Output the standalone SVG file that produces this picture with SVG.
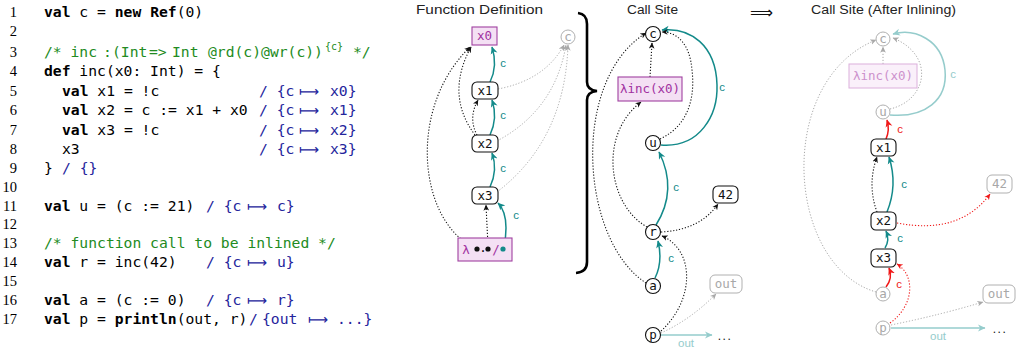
<svg xmlns="http://www.w3.org/2000/svg" width="1022" height="351" viewBox="0 0 1022 351">
<style>
.code{font-family:"DejaVu Sans Mono",monospace;font-size:14.7px;fill:#000}
.kw{font-weight:bold}
.cm{fill:#228b22}
.ef{fill:#24249c}
.mt{font-family:"DejaVu Sans",sans-serif;font-size:14px}
.ln{font-family:"Liberation Serif",serif;font-size:14.5px;text-anchor:end;fill:#000}
.title{font-family:"Liberation Sans",sans-serif;font-size:12.5px;fill:#222}
.nl{font-family:"DejaVu Sans Mono",monospace;font-size:12.5px;text-anchor:middle;fill:#111}
.gl{fill:#a8a8a8}
.pl{fill:#a030a0}
.fpl{fill:#cc90cc}
.node{fill:#fff;stroke:#111;stroke-width:1.1}
.gnode{fill:#fff;stroke:#b0b0b0;stroke-width:1}
.pbox{fill:#f4e0f4;stroke:#a040a0;stroke-width:1.1}
.fbox{fill:#faf0fa;stroke:#dcb0dc;stroke-width:1}
.lbl{font-family:"Liberation Sans",sans-serif;font-size:11.5px;text-anchor:middle}
.teal{fill:none;stroke:#138a8a;stroke-width:1.5}
.lteal{fill:none;stroke:#95cccc;stroke-width:1.5}
.red{fill:none;stroke:#f01818;stroke-width:1.5}
.dot{fill:none;stroke:#111;stroke-width:1.1;stroke-dasharray:1.2 1.8}
.gdot{fill:none;stroke:#a8a8a8;stroke-width:1;stroke-dasharray:1.2 1.8}
.rdot{fill:none;stroke:#f01818;stroke-width:1.1;stroke-dasharray:1.2 1.8}
</style>
<defs>
<marker id="aT" markerUnits="userSpaceOnUse" viewBox="0 0 8 8" markerWidth="8" markerHeight="8" refX="7" refY="4" orient="auto"><path d="M0,0.5 L7.5,4 L0,7.5 L2.2,4 z" fill="#138a8a"/></marker>
<marker id="aLT" markerUnits="userSpaceOnUse" viewBox="0 0 8 8" markerWidth="8" markerHeight="8" refX="7" refY="4" orient="auto"><path d="M0,0.5 L7.5,4 L0,7.5 L2.2,4 z" fill="#95cccc"/></marker>
<marker id="aR" markerUnits="userSpaceOnUse" viewBox="0 0 8 8" markerWidth="8" markerHeight="8" refX="7" refY="4" orient="auto"><path d="M0,0.5 L7.5,4 L0,7.5 L2.2,4 z" fill="#f01818"/></marker>
<marker id="aK" markerUnits="userSpaceOnUse" viewBox="0 0 8 8" markerWidth="6.5" markerHeight="6.5" refX="7" refY="4" orient="auto"><path d="M0,0.5 L7.5,4 L0,7.5 L2.2,4 z" fill="#111"/></marker>
<marker id="aG" markerUnits="userSpaceOnUse" viewBox="0 0 8 8" markerWidth="6.5" markerHeight="6.5" refX="7" refY="4" orient="auto"><path d="M0,0.5 L7.5,4 L0,7.5 L2.2,4 z" fill="#a8a8a8"/></marker>
<marker id="aRd" markerUnits="userSpaceOnUse" viewBox="0 0 8 8" markerWidth="6.5" markerHeight="6.5" refX="7" refY="4" orient="auto"><path d="M0,0.5 L7.5,4 L0,7.5 L2.2,4 z" fill="#f01818"/></marker>
</defs>

<g id="code">
<text class="ln" x="17" y="17">1</text>
<text class="ln" x="17" y="36">2</text>
<text class="ln" x="17" y="57">3</text>
<text class="ln" x="17" y="76">4</text>
<text class="ln" x="17" y="96">5</text>
<text class="ln" x="17" y="115">6</text>
<text class="ln" x="17" y="135">7</text>
<text class="ln" x="17" y="154">8</text>
<text class="ln" x="17" y="173">9</text>
<text class="ln" x="17" y="192">10</text>
<text class="ln" x="17" y="211">11</text>
<text class="ln" x="17" y="229">12</text>
<text class="ln" x="17" y="248">13</text>
<text class="ln" x="17" y="267">14</text>
<text class="ln" x="17" y="286">15</text>
<text class="ln" x="17" y="305">16</text>
<text class="ln" x="17" y="324">17</text>

<text class="code" x="44" y="17" xml:space="preserve"><tspan class="kw">val</tspan> c = <tspan class="kw">new</tspan> <tspan class="kw">Ref</tspan>(0)</text>
<text class="code cm" y="57"><tspan x="44">/* inc</tspan><tspan x="103">:</tspan><tspan x="112">(Int</tspan><tspan x="149">=&gt;</tspan><tspan x="172">Int</tspan><tspan x="208">@rd(c)@wr(c))</tspan><tspan x="325" dy="-7" font-size="10">{c}</tspan><tspan x="353" dy="7">*/</tspan></text>
<text class="code" x="44" y="76" xml:space="preserve"><tspan class="kw">def</tspan> inc(x0: Int) = {</text>
<text class="code" x="62" y="96" xml:space="preserve"><tspan class="kw">val</tspan> x1 = !c</text>
<text class="code ef" y="96"><tspan x="259">/ {c</tspan><tspan class="mt" x="299">⟼</tspan><tspan x="330">x0}</tspan></text>
<text class="code" x="62" y="115" xml:space="preserve"><tspan class="kw">val</tspan> x2 = c := x1 + x0</text>
<text class="code ef" y="115"><tspan x="259">/ {c</tspan><tspan class="mt" x="299">⟼</tspan><tspan x="330">x1}</tspan></text>
<text class="code" x="62" y="135" xml:space="preserve"><tspan class="kw">val</tspan> x3 = !c</text>
<text class="code ef" y="135"><tspan x="259">/ {c</tspan><tspan class="mt" x="299">⟼</tspan><tspan x="330">x2}</tspan></text>
<text class="code" x="62" y="154">x3</text>
<text class="code ef" y="154"><tspan x="259">/ {c</tspan><tspan class="mt" x="299">⟼</tspan><tspan x="330">x3}</tspan></text>
<text class="code" x="44" y="173">}</text>
<text class="code ef" x="62" y="173">/ {}</text>
<text class="code" x="44" y="211" xml:space="preserve"><tspan class="kw">val</tspan> u = (c := 21)</text>
<text class="code ef" y="211"><tspan x="206">/ {c</tspan><tspan class="mt" x="247">⟼</tspan><tspan x="277">c}</tspan></text>
<text class="code cm" x="44" y="248">/* function call to be inlined */</text>
<text class="code" x="44" y="267" xml:space="preserve"><tspan class="kw">val</tspan> r = inc(42)</text>
<text class="code ef" y="267"><tspan x="206">/ {c</tspan><tspan class="mt" x="247">⟼</tspan><tspan x="277">u}</tspan></text>
<text class="code" x="44" y="305" xml:space="preserve"><tspan class="kw">val</tspan> a = (c := 0)</text>
<text class="code ef" y="305"><tspan x="206">/ {c</tspan><tspan class="mt" x="247">⟼</tspan><tspan x="277">r}</tspan></text>
<text class="code" x="44" y="324" xml:space="preserve"><tspan class="kw">val</tspan> p = <tspan class="kw">println</tspan>(out, r)</text>
<text class="code ef" y="324"><tspan x="249">/</tspan><tspan x="262">{out</tspan><tspan class="mt" x="308">⟼</tspan><tspan x="337">...}</tspan></text>
</g>

<g id="titles">
<text class="title" x="416" y="14" textLength="127" lengthAdjust="spacingAndGlyphs">Function Definition</text>
<text class="title" x="627" y="14" textLength="51" lengthAdjust="spacingAndGlyphs">Call Site</text>
<text class="title" x="811" y="14" textLength="145" lengthAdjust="spacingAndGlyphs">Call Site (After Inlining)</text>
<text x="750" y="18" font-family="DejaVu Sans,sans-serif" font-size="16" textLength="23" lengthAdjust="spacingAndGlyphs" fill="#111">⟹</text>
</g>

<path id="brace" d="M578,13 Q587,14 587,24 L587,82 Q587,90 597,91 Q587,92 587,100 L587,262 Q587,272 576,273" fill="none" stroke="#000" stroke-width="2.6"/>

<g id="connectors">
<path class="teal" d="M490,82 Q498,66 492,47" marker-end="url(#aT)"/>
<path class="teal" d="M490,135 Q498,118 492,100" marker-end="url(#aT)"/>
<path class="teal" d="M490,187 Q498,170 492,153" marker-end="url(#aT)"/>
<path class="teal" d="M504,247 Q510,215 498,203" marker-end="url(#aT)"/>
<path class="dot" d="M477,135 Q468,118 478,100" marker-end="url(#aK)"/>
<path class="dot" d="M475,135 Q445,95 471,47" marker-end="url(#aK)"/>
<path class="dot" d="M476,248 C420,225 405,110 470,47" marker-end="url(#aK)"/>
<path class="dot" d="M488,246 L486,205" marker-end="url(#aK)"/>
<path class="gdot" d="M498,89 Q545,80 564,45" marker-end="url(#aG)"/>
<path class="gdot" d="M497,141 Q555,110 566,45" marker-end="url(#aG)"/>
<path class="gdot" d="M497,192 Q565,140 568,45" marker-end="url(#aG)"/>
<text class="lbl" x="503" y="67" fill="#138a8a">c</text>
<text class="lbl" x="503" y="119" fill="#138a8a">c</text>
<text class="lbl" x="503" y="172" fill="#138a8a">c</text>
<text class="lbl" x="516" y="219" fill="#138a8a">c</text>

<path class="dot" d="M650,77 L652,43" marker-end="url(#aK)"/>
<path class="teal" d="M661,145 C700,148 718,115 717,85 C716,45 690,27 662,30" marker-end="url(#aT)"/>
<path class="dot" d="M660,139 C690,125 695,95 692,70 C690,45 678,32 662,32" marker-end="url(#aK)"/>
<path class="dot" d="M647,227 C608,205 598,135 641,102" marker-end="url(#aK)"/>
<path class="dot" d="M646,283 C580,240 570,80 646,33" marker-end="url(#aK)"/>
<path class="teal" d="M656,225 Q678,190 659,152" marker-end="url(#aT)"/>
<path class="teal" d="M655,278 Q663,262 658,241" marker-end="url(#aT)"/>
<path class="dot" d="M661,232 Q700,230 718,204" marker-end="url(#aK)"/>
<path class="dot" d="M661,331 C695,300 695,250 662,236" marker-end="url(#aK)"/>
<path class="gdot" d="M661,333 Q690,320 716,294" marker-end="url(#aG)"/>
<path class="lteal" d="M661,335 L712,335" marker-end="url(#aLT)"/>
<text class="lbl" x="722" y="91" fill="#138a8a">c</text>
<text class="lbl" x="676" y="191" fill="#138a8a">c</text>
<text class="lbl" x="671" y="262" fill="#138a8a">c</text>
<text class="lbl" x="686" y="347" fill="#95cccc">out</text>

<path class="gdot" d="M883,64 L883,47" marker-end="url(#aG)"/>
<path class="lteal" d="M890,115 C925,118 948,100 945,70 C942,40 915,28 893,34" marker-end="url(#aLT)"/>
<path class="gdot" d="M890,109 C928,100 935,55 893,38" marker-end="url(#aG)"/>
<path class="red" d="M886,139 Q890,130 887,120" marker-end="url(#aR)"/>
<path class="teal" d="M887,212 Q898,185 889,157" marker-end="url(#aT)"/>
<path class="dot" d="M877,212 Q867,185 877,157" marker-end="url(#aK)"/>
<path class="teal" d="M885,248 Q890,240 886,231" marker-end="url(#aT)"/>
<path class="red" d="M886,287 Q893,278 889,268" marker-end="url(#aR)"/>
<path class="rdot" d="M890,323 C915,305 915,275 897,264" marker-end="url(#aRd)"/>
<path class="rdot" d="M897,223 Q960,235 990,194" marker-end="url(#aRd)"/>
<path class="gdot" d="M891,325 Q940,315 983,302" marker-end="url(#aG)"/>
<path class="lteal" d="M891,328 L985,328" marker-end="url(#aLT)"/>
<path class="gdot" d="M876,292 C785,265 775,80 876,40" marker-end="url(#aG)"/>
<text class="lbl" x="953" y="78" fill="#95cccc">c</text>
<text class="lbl" x="900" y="133" fill="#f01818">c</text>
<text class="lbl" x="904" y="188" fill="#138a8a">c</text>
<text class="lbl" x="900" y="242" fill="#138a8a">c</text>
<text class="lbl" x="899" y="288" fill="#f01818">c</text>
<text class="lbl" x="938" y="340" fill="#95cccc">out</text>
</g>

<g id="fd-x0"><rect class="pbox" x="472" y="27" width="25" height="18"/><text class="nl pl" x="484.5" y="40">x0</text></g>
<g id="fd-c"><circle class="gnode" cx="568" cy="37" r="7"/><text class="nl gl" x="568" y="41">c</text></g>
<g id="fd-x1"><rect class="node" x="472" y="82" width="26" height="17" rx="5"/><text class="nl" x="485" y="95">x1</text></g>
<g id="fd-x2"><rect class="node" x="472" y="135" width="26" height="17" rx="5"/><text class="nl" x="485" y="148">x2</text></g>
<g id="fd-x3"><rect class="node" x="472" y="187" width="26" height="17" rx="5"/><text class="nl" x="485" y="200">x3</text></g>
<g id="fd-lambda"><rect class="pbox" x="458" y="238" width="54" height="23"/>
<text class="nl pl" x="466" y="254">λ</text><circle cx="477" cy="249" r="2.6" fill="#111"/><text class="nl" x="483" y="252">.</text><circle cx="488" cy="249" r="2.6" fill="#111"/><text class="nl pl" x="496" y="254">/</text><circle cx="503" cy="249" r="2.6" fill="#138a8a"/></g>

<g id="cs-c"><circle class="node" cx="653" cy="34" r="7.5"/><text class="nl" x="653" y="38">c</text></g>
<g id="cs-inc"><rect class="pbox" x="618" y="77" width="64" height="24"/><text class="nl pl" x="650" y="93">λinc(x0)</text></g>
<g id="cs-u"><circle class="node" cx="653" cy="143" r="7.5"/><text class="nl" x="653" y="147">u</text></g>
<g id="cs-r"><circle class="node" cx="653" cy="232" r="7.5"/><text class="nl" x="653" y="236">r</text></g>
<g id="cs-a"><circle class="node" cx="653" cy="286" r="7.5"/><text class="nl" x="653" y="290">a</text></g>
<g id="cs-p"><circle class="node" cx="653" cy="335" r="7.5"/><text class="nl" x="653" y="339">p</text></g>
<g id="cs-42"><rect class="node" x="713" y="186" width="25" height="17" rx="5"/><text class="nl" x="725.5" y="199">42</text></g>
<g id="cs-out"><rect class="gnode" x="710" y="275" width="32" height="18" rx="5"/><text class="nl gl" x="726" y="288">out</text></g>
<g id="cs-dots"><text x="725" y="340" font-family="Liberation Sans,sans-serif" font-size="12" text-anchor="middle" letter-spacing="1.5" fill="#111">...</text></g>

<g id="ai-c"><circle class="gnode" cx="883" cy="39" r="7"/><text class="nl gl" x="883" y="43">c</text></g>
<g id="ai-inc"><rect class="fbox" x="849" y="64" width="68" height="24"/><text class="nl fpl" x="883" y="80">λinc(x0)</text></g>
<g id="ai-u"><circle class="gnode" cx="883" cy="112" r="7"/><text class="nl gl" x="883" y="116">u</text></g>
<g id="ai-x1"><rect class="node" x="871" y="139" width="25" height="17" rx="5"/><text class="nl" x="883.5" y="152">x1</text></g>
<g id="ai-x2"><rect class="node" x="871" y="212" width="25" height="18" rx="5"/><text class="nl" x="883.5" y="225">x2</text></g>
<g id="ai-x3"><rect class="node" x="871" y="249" width="25" height="18" rx="5"/><text class="nl" x="883.5" y="262">x3</text></g>
<g id="ai-a"><circle class="gnode" cx="883" cy="294" r="7"/><text class="nl gl" x="883" y="298">a</text></g>
<g id="ai-p"><circle class="gnode" cx="883" cy="328" r="7"/><text class="nl gl" x="883" y="332">p</text></g>
<g id="ai-42"><rect class="gnode" x="987" y="175" width="25" height="18" rx="5"/><text class="nl gl" x="999.5" y="188">42</text></g>
<g id="ai-out"><rect class="gnode" x="983" y="285" width="32" height="18" rx="5"/><text class="nl gl" x="999" y="298">out</text></g>
<g id="ai-dots"><text x="1000" y="333" font-family="Liberation Sans,sans-serif" font-size="12" text-anchor="middle" letter-spacing="1.5" fill="#111">...</text></g>
</svg>
